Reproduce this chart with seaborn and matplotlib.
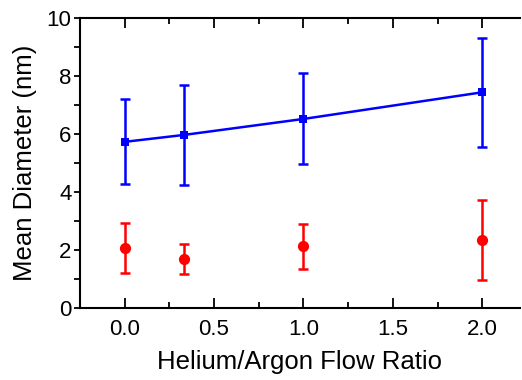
import matplotlib
matplotlib.use("Agg")
import matplotlib.pyplot as plt
from matplotlib.ticker import MultipleLocator
import seaborn as sns
import pandas as pd

# flow ratio He/Ar
ratio = [0.0, 1 / 3, 1.0, 2.0]

# larger particles (blue squares, joined by line)
diam_large = [5.73, 5.97, 6.52, 7.44]
err_large = [1.47, 1.72, 1.57, 1.88]

# smaller particles (red circles)
diam_small = [2.08, 1.68, 2.13, 2.34]
err_small = [0.86, 0.52, 0.78, 1.38]

df_large = pd.DataFrame({"ratio": ratio, "diam": diam_large})
df_small = pd.DataFrame({"ratio": ratio, "diam": diam_small})

sns.set_style("ticks", {"text.color": "black", "axes.labelcolor": "black",
                        "xtick.color": "black", "ytick.color": "black"})
plt.rcParams['font.family'] = ['Liberation Sans', 'DejaVu Sans']

fig = plt.figure(figsize=(5.22, 3.8), dpi=100)
ax = fig.add_axes([0.153, 0.1895, 0.843, 0.763])

ax.errorbar(ratio, diam_large, yerr=err_large, fmt='none', ecolor='blue',
            elinewidth=1.8, capsize=3.3, capthick=1.8, zorder=2)
ax.errorbar(ratio, diam_small, yerr=err_small, fmt='none', ecolor='red',
            elinewidth=1.8, capsize=3.3, capthick=1.8, zorder=2)

sns.lineplot(data=df_large, x="ratio", y="diam", ax=ax, color='blue',
             marker='s', markersize=6, markeredgewidth=0, linewidth=1.8,
             zorder=3)
sns.scatterplot(data=df_small, x="ratio", y="diam", ax=ax, color='red',
                marker='o', s=65, linewidth=0, zorder=3)

ax.set_xlim(-0.25, 2.21)
ax.set_ylim(0, 10)
ax.xaxis.set_major_locator(MultipleLocator(0.5))
ax.xaxis.set_minor_locator(MultipleLocator(0.25))
ax.yaxis.set_major_locator(MultipleLocator(2))
ax.yaxis.set_minor_locator(MultipleLocator(1))

ax.tick_params(axis='x', which='both', direction='in', top=True, bottom=True,
               labelsize=16, width=1.3, color='black', labelcolor='black', pad=8)
ax.tick_params(axis='x', which='major', length=7)
ax.tick_params(axis='x', which='minor', length=4)
ax.tick_params(axis='y', which='both', direction='out', left=True,
               labelsize=16, width=1.3, color='black', labelcolor='black',
               length=4.5, pad=1.5)

for side in ['left', 'top', 'bottom']:
    ax.spines[side].set_linewidth(1.5)
    ax.spines[side].set_color('black')
ax.spines['right'].set_visible(False)

ax.set_xlabel("Helium/Argon Flow Ratio", fontsize=18.5, labelpad=7,
              color='black')
ax.set_ylabel("Mean Diameter (nm)", fontsize=18.5, labelpad=7, color='black')

fig.savefig("out.png", dpi=100)
